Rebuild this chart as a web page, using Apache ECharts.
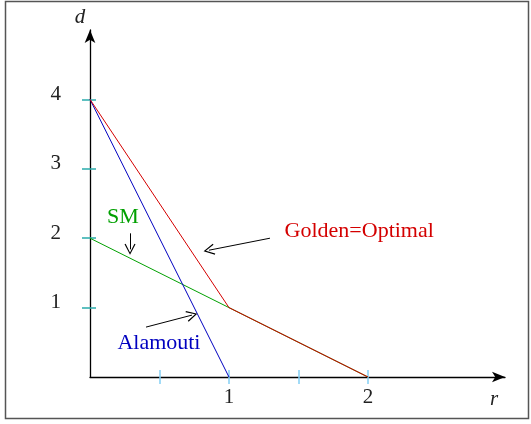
<!DOCTYPE html>
<html>
<head>
<meta charset="utf-8">
<script src="https://cdn.jsdelivr.net/npm/echarts@6/dist/echarts.min.js"></script>
<style>
  html, body { margin: 0; padding: 0; background: #fff; }
  #chart { width: 531px; height: 424px; }
</style>
</head>
<body>
<div id="chart"></div>
<script>
// Diversity–multiplexing tradeoff curves: d (diversity gain) versus r (multiplexing gain)
const alamoutiR = [0, 1];
const alamoutiD = [4, 0];
const goldenR = [0, 1, 2];
const goldenD = [4, 1, 0];
const smR = [0, 1, 2];
const smD = [2, 1, 0];

const xTicks = [0.5, 1, 1.5, 2];
const xTickLabels = [1, 2];
const yTicks = [1, 2, 3, 4];
const yTickLabels = [1, 2, 3, 4];

// annotation texts (data coordinates) and pointer arrows [from, to]
const noteText = ['SM', 'Golden=Optimal', 'Alamouti'];
const notePos = [[0.237, 2.30], [1.40, 2.10], [0.496, 0.49]];
const noteArrows = [
  [[0.288, 2.07], [0.288, 1.84]],
  [[1.295, 2.00], [0.856, 1.827]],
  [[0.403, 0.719], [0.734, 0.892]]
];

const RED = '#d40000', BLUE = '#0000c0', GREEN = '#00a000';
const Y_TICK = '#2aacac', X_TICK = '#84cff5';
const noteColor = [GREEN, RED, BLUE];
const noteAlign = ['center', 'left', 'center'];
const serif = 'Liberation Serif, Times New Roman, serif';

const zip = (a, b) => a.map((v, i) => [v, b[i]]);

const chart = echarts.init(document.getElementById('chart'), null, { renderer: 'canvas' });

const xBase = { type: 'value', min: 0, max: 2.986, splitLine: { show: false }, position: 'bottom' };
const yBase = { type: 'value', min: 0, max: 5, splitLine: { show: false }, position: 'left' };

chart.setOption({
  animation: false,
  backgroundColor: '#fff',
  grid: { left: 90, right: 26, top: 30, bottom: 47 },
  graphic: [{
    type: 'rect',
    shape: { x: 5.5, y: 1.5, width: 523, height: 417 },
    style: { fill: 'none', stroke: '#555', lineWidth: 1.5 },
    silent: true
  }],
  xAxis: [
    Object.assign({}, xBase, {
      name: 'r',
      nameLocation: 'end',
      nameGap: -11,
      nameTextStyle: { fontFamily: serif, fontStyle: 'italic', fontSize: 21, color: '#222',
        align: 'center', verticalAlign: 'top', padding: [12, 0, 0, 0] },
      axisLine: { show: true, symbol: ['none', 'arrow'], symbolSize: [8, 13],
        lineStyle: { color: '#000', width: 1.3 } },
      axisTick: { show: true, customValues: xTicks, length: 7, inside: false,
        lineStyle: { color: X_TICK, width: 1.5 } },
      axisLabel: { show: true, customValues: xTickLabels, margin: 10,
        fontFamily: serif, fontSize: 21, color: '#222' }
    }),
    Object.assign({}, xBase, {
      axisLine: { show: false },
      axisTick: { show: true, customValues: xTicks, length: 7, inside: true,
        lineStyle: { color: X_TICK, width: 1.5 } },
      axisLabel: { show: false }
    })
  ],
  yAxis: [
    Object.assign({}, yBase, {
      name: 'd',
      nameLocation: 'end',
      nameGap: 2,
      nameTextStyle: { fontFamily: serif, fontStyle: 'italic', fontSize: 21, color: '#222',
        align: 'center', verticalAlign: 'bottom', padding: [0, 20, 0, 0] },
      axisLine: { show: true, symbol: ['none', 'arrow'], symbolSize: [8, 13],
        lineStyle: { color: '#000', width: 1.3 } },
      axisTick: { show: true, customValues: yTicks, length: 8, inside: false,
        lineStyle: { color: Y_TICK, width: 1.5 } },
      axisLabel: { show: true, customValues: yTickLabels, margin: 29,
        fontFamily: serif, fontSize: 21, color: '#222', verticalAlign: 'bottom', lineHeight: 10 }
    }),
    Object.assign({}, yBase, {
      axisLine: { show: false },
      axisTick: { show: true, customValues: yTicks, length: 6, inside: true,
        lineStyle: { color: Y_TICK, width: 1.5 } },
      axisLabel: { show: false }
    })
  ],
  series: [
    { type: 'line', name: 'SM', data: zip(smR, smD), symbol: 'none',
      lineStyle: { color: GREEN, width: 1 }, z: 2 },
    { type: 'line', name: 'Alamouti', data: zip(alamoutiR, alamoutiD), symbol: 'none',
      lineStyle: { color: BLUE, width: 1 }, z: 3 },
    { type: 'line', name: 'Golden', data: zip(goldenR, goldenD), symbol: 'none',
      lineStyle: { color: RED, width: 1 }, z: 4 },
    {
      type: 'lines',
      coordinateSystem: 'cartesian2d',
      polyline: false,
      symbol: ['none', 'path://M0,0 L5,11 L4,11.6 L0,2.5 L-4,11.6 L-5,11 Z'],
      symbolSize: [9, 11],
      lineStyle: { color: '#000', width: 1, opacity: 1 },
      data: noteArrows.map(a => ({ coords: a })),
      z: 5
    },
    {
      type: 'scatter',
      symbolSize: 1,
      itemStyle: { color: 'rgba(0,0,0,0)', opacity: 1 },
      data: noteText.map((t, i) => ({
        value: notePos[i],
        name: t,
        label: { show: true, position: 'inside', formatter: t, color: noteColor[i],
          align: noteAlign[i], verticalAlign: 'middle', opacity: 1,
          fontFamily: serif, fontSize: 22 }
      })),
      z: 6
    }
  ]
});
</script>
</body>
</html>
